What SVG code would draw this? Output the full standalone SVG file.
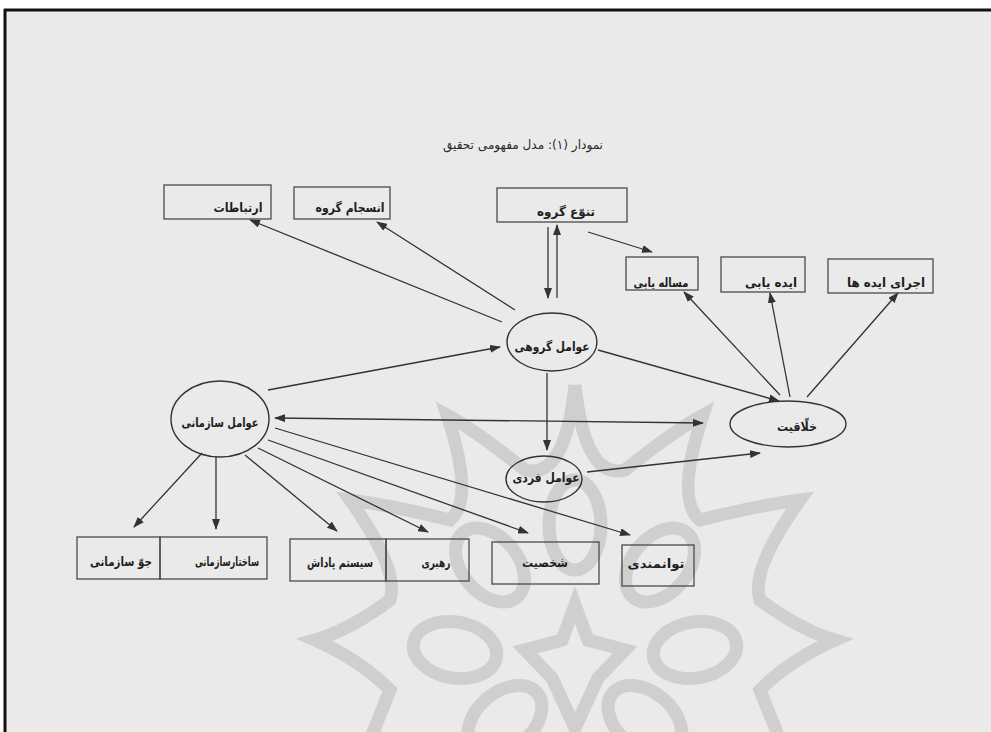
<svg xmlns="http://www.w3.org/2000/svg" width="991" height="732" viewBox="0 0 991 732">
<defs>
<style>
.bg{fill:#eaeaea}
.box{fill:none;stroke:#4a4a4a;stroke-width:1.3}
.ell{fill:none;stroke:#333;stroke-width:1.4}
.lbl{font-family:"DejaVu Sans",sans-serif;font-size:12.5px;font-weight:bold;fill:#1e1e1e;text-anchor:middle}
.ttl{font-family:"DejaVu Sans",sans-serif;font-size:12.5px;fill:#2a2a2a;text-anchor:middle}
.con line{stroke:#333;stroke-width:1.3;marker-end:url(#ah)}
.wm{fill:none;stroke:#c9c9c9;stroke-width:13;stroke-linejoin:miter}
</style>
<marker id="ah" markerUnits="userSpaceOnUse" markerWidth="11" markerHeight="8" refX="10" refY="4" orient="auto-start-reverse">
<path d="M0,0 L11,4 L0,8 z" fill="#333"/>
</marker>
</defs>
<rect class="bg" x="0" y="0" width="991" height="732"/>
<rect x="0" y="0" width="991" height="9" fill="#ffffff"/>
<rect x="0" y="0" width="4" height="732" fill="#ffffff"/>
<line x1="4" y1="10" x2="991" y2="10" stroke="#111" stroke-width="3"/>
<line x1="5" y1="9" x2="5" y2="732" stroke="#111" stroke-width="3"/>

<g id="watermark" opacity="0.8">
<path class="wm" d="M575,385 Q585,480 625,470 Q675,430 703,415 Q675,500 700,520 Q760,505 800,500 Q750,570 760,600 Q800,630 835,640 Q790,660 760,690 Q780,740 800,790 M575,385 Q565,480 525,470 Q475,430 447,415 Q475,500 450,520 Q390,505 350,500 Q400,570 390,600 Q350,630 315,640 Q360,660 390,690 Q370,740 350,790"/>
<ellipse class="wm" cx="575" cy="525" rx="26" ry="45"/>
<ellipse class="wm" cx="490" cy="565" rx="28" ry="42" transform="rotate(-40 490 565)"/>
<ellipse class="wm" cx="660" cy="565" rx="28" ry="42" transform="rotate(40 660 565)"/>
<ellipse class="wm" cx="455" cy="650" rx="28" ry="42" transform="rotate(-80 455 650)"/>
<ellipse class="wm" cx="695" cy="650" rx="28" ry="42" transform="rotate(80 695 650)"/>
<ellipse class="wm" cx="505" cy="720" rx="28" ry="42" transform="rotate(-130 505 720)"/>
<ellipse class="wm" cx="645" cy="720" rx="28" ry="42" transform="rotate(130 645 720)"/>
<path class="wm" d="M575,605 L588,640 L625,650 L598,678 L575,728 L552,678 L525,650 L562,640 z"/>
</g>

<text class="ttl" x="523" y="149" direction="rtl" textLength="160" lengthAdjust="spacingAndGlyphs">نمودار (۱): مدل مفهومی تحقیق</text>

<g id="con" class="con">
<line x1="502" y1="322" x2="250" y2="220"/>
<line x1="515" y1="310" x2="377" y2="222"/>
<line x1="548" y1="227" x2="548" y2="298"/>
<line x1="557" y1="298" x2="557" y2="225"/>
<line x1="588" y1="232" x2="652" y2="252"/>
<line x1="780" y1="395" x2="684" y2="292"/>
<line x1="790" y1="397" x2="770" y2="293"/>
<line x1="807" y1="397" x2="898" y2="293"/>
<line x1="268" y1="390" x2="500" y2="347"/>
<line x1="598" y1="350" x2="779" y2="401"/>
<line x1="547" y1="373" x2="547" y2="450"/>
<line x1="275" y1="418" x2="703" y2="423" style="marker-start:url(#ah)"/>
<line x1="587" y1="472" x2="760" y2="453"/>
<line x1="202" y1="453" x2="134" y2="527"/>
<line x1="216" y1="457" x2="216" y2="529"/>
<line x1="245" y1="455" x2="337" y2="531"/>
<line x1="258" y1="448" x2="428" y2="532"/>
<line x1="268" y1="440" x2="528" y2="533"/>
<line x1="275" y1="428" x2="630" y2="535"/>
</g>

<g id="n-ertebatat"><rect class="box" x="164" y="185" width="107" height="34"/><text class="lbl" x="238" y="212" direction="rtl" textLength="49" lengthAdjust="spacingAndGlyphs">ارتباطات</text></g>
<g id="n-ensejam"><rect class="box" x="294" y="187" width="96" height="32"/><text class="lbl" x="350" y="212" direction="rtl" textLength="69" lengthAdjust="spacingAndGlyphs">انسجام گروه</text></g>
<g id="n-tanavo"><rect class="box" x="497" y="188" width="130" height="34"/><text class="lbl" x="566" y="216" direction="rtl" textLength="58" lengthAdjust="spacingAndGlyphs">تنوّع گروه</text></g>
<g id="n-masale"><rect class="box" x="626" y="257" width="72" height="33"/><text class="lbl" x="661" y="287" direction="rtl" textLength="55" lengthAdjust="spacingAndGlyphs">مساله یابی</text></g>
<g id="n-ide"><rect class="box" x="721" y="257" width="84" height="35"/><text class="lbl" x="771" y="287" direction="rtl" textLength="52" lengthAdjust="spacingAndGlyphs">ایده یابی</text></g>
<g id="n-ejra"><rect class="box" x="828" y="259" width="105" height="34"/><text class="lbl" x="886" y="287" direction="rtl" textLength="78" lengthAdjust="spacingAndGlyphs">اجرای ایده ها</text></g>

<g id="n-gorouhi"><ellipse class="ell" cx="552" cy="342" rx="45" ry="29"/><text class="lbl" x="552" y="351" direction="rtl" textLength="75" lengthAdjust="spacingAndGlyphs">عوامل گروهی</text></g>
<g id="n-sazmani"><ellipse class="ell" cx="220" cy="419" rx="49" ry="38"/><text class="lbl" x="220" y="427" direction="rtl" textLength="77" lengthAdjust="spacingAndGlyphs">عوامل سازمانی</text></g>
<g id="n-khalaqiat"><ellipse class="ell" cx="788" cy="424" rx="58" ry="23"/><text class="lbl" x="797" y="431" direction="rtl" textLength="40" lengthAdjust="spacingAndGlyphs">خلّاقیت</text></g>
<g id="n-fardi"><ellipse class="ell" cx="544" cy="479" rx="38" ry="23"/><text class="lbl" x="546" y="482" direction="rtl" textLength="67" lengthAdjust="spacingAndGlyphs">عوامل فردی</text></g>

<g id="n-jav"><rect class="box" x="77" y="537" width="83" height="42"/><text class="lbl" x="121" y="566" direction="rtl" textLength="62" lengthAdjust="spacingAndGlyphs">جوّ سازمانی</text></g>
<g id="n-sakhtar"><rect class="box" x="160" y="537" width="107" height="42"/><text class="lbl" x="227" y="566" direction="rtl" textLength="64" lengthAdjust="spacingAndGlyphs">ساختارسازمانی</text></g>
<g id="n-padash"><rect class="box" x="290" y="539" width="96" height="42"/><text class="lbl" x="340" y="567" direction="rtl" textLength="66" lengthAdjust="spacingAndGlyphs">سیستم پاداش</text></g>
<g id="n-rahbari"><rect class="box" x="386" y="539" width="83" height="42"/><text class="lbl" x="436" y="567" direction="rtl" textLength="29" lengthAdjust="spacingAndGlyphs">رهبری</text></g>
<g id="n-shakhsiat"><rect class="box" x="492" y="542" width="107" height="42"/><text class="lbl" x="545" y="567" direction="rtl" textLength="46" lengthAdjust="spacingAndGlyphs">شخصیت</text></g>
<g id="n-tavanmandi"><rect class="box" x="622" y="545" width="72" height="41"/><text class="lbl" x="656" y="568" direction="rtl" textLength="57" lengthAdjust="spacingAndGlyphs">توانمندی</text></g>
</svg>
